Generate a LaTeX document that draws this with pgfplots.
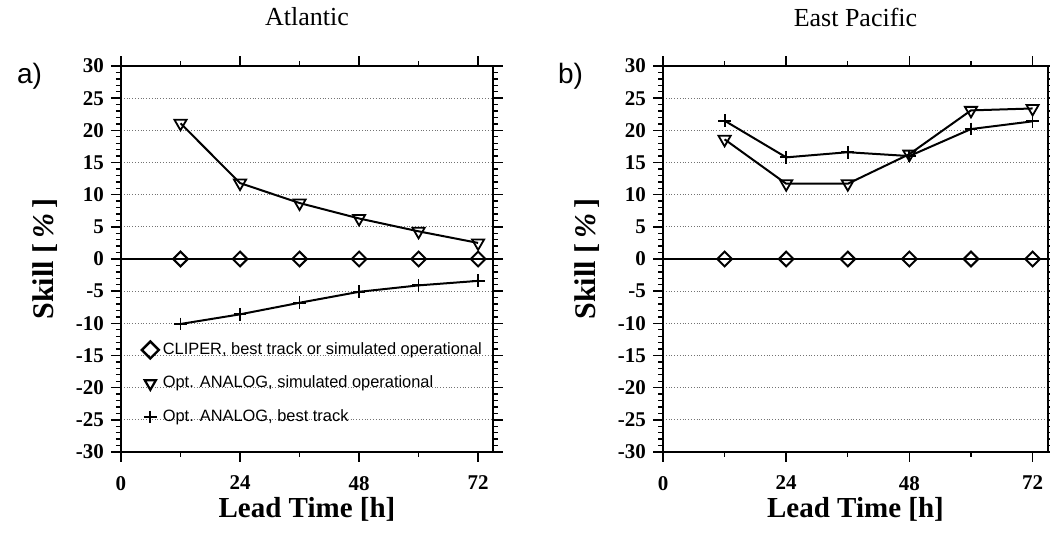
\documentclass[border=0pt]{standalone}
\usepackage{fontspec}
\setmainfont{Liberation Serif}
\newfontfamily\arial{Liberation Sans}
\usepackage{pgfplots}
\pgfplotsset{compat=1.18}

\pgfplotsset{
  skill/.style={
    scale only axis, height=193pt,
    xmin=0, xmax=75, ymin=-30, ymax=30,
    xtick={0,24,48,72}, xticklabels={0,24,48,72},
    minor xtick={12,36,60},
    ytick={-30,-25,...,30},
    yticklabels={-30,-25,-20,-15,-10,-5,0,5,10,15,20,25,30},
    minor y tick num=4,
    tick align=outside,
    major tick length=5pt, minor tick length=2.5pt,
    tick style={black, line width=0.7pt},
    axis line style={line width=0.8pt},
    ymajorgrids,
    major grid style={densely dotted, black!55, line width=0.4pt},
    tick label style={font=\bfseries\fontsize{10.5}{12}\selectfont},
    xticklabel style={yshift=-3.5pt},
    xlabel={Lead Time [h]}, ylabel={Skill [\,\textit{\%}\,]},
    every axis x label/.style={at={(rel axis cs:0.5,0)}, yshift=-28.5pt, anchor=center,
      font=\bfseries\fontsize{14.5}{16}\selectfont},
    every axis y label/.style={at={(rel axis cs:0,0.5)}, xshift=-38pt, rotate=90, anchor=center,
      font=\bfseries\fontsize{15}{16}\selectfont},
    every axis title/.style={font=\fontsize{13}{15}\selectfont, at={(rel axis cs:0.5,1)}, yshift=24.5pt, anchor=center},
    extra y ticks={0}, extra y tick labels={},
    extra y tick style={grid=major, major grid style={solid, black, line width=1pt}},
    clip=false,
    legend image code/.code={\draw[mark repeat=2,mark phase=2,#1] plot coordinates {(0cm,0cm)(0.2cm,0cm)(0.47cm,0cm)};},
  },
  dia/.style={black, line width=1pt, mark=square, mark size=2.6pt, mark options={rotate=45, solid, fill=white, line width=1pt}},
  tri/.style={black, line width=1pt, mark=triangle, mark size=3.5pt, mark options={rotate=180, solid, fill=white, line width=0.9pt}},
  pls/.style={black, line width=1pt, mark=+, mark size=3.2pt, mark options={solid, line width=0.9pt}},
}

\begin{document}
\begin{tikzpicture}
\path[use as bounding box] (-60.5pt,-41.5pt) rectangle (464.5pt,226pt);

\begin{axis}[skill, width=186pt, at={(0pt,0pt)}, anchor=south west,
    title={Atlantic},
    legend style={at={(rel axis cs:0.055,0.295)}, anchor=north west, draw=none, fill=none,
      font=\arial\fontsize{8.2}{9.5}\selectfont, row sep=5.3pt, inner sep=0pt},
    legend cell align=left]
\addplot[dia, forget plot] coordinates {(12,0)(24,0)(36,0)(48,0)(60,0)(72,0)};
\addplot[tri, forget plot] coordinates {(12,21.1)(24,11.8)(36,8.7)(48,6.3)(60,4.3)(72,2.5)};
\addplot[pls, forget plot] coordinates {(12,-10.1)(24,-8.6)(36,-6.8)(48,-5.1)(60,-4.1)(72,-3.4)};
\addlegendimage{only marks, mark=square, mark size=3pt, mark options={rotate=45, line width=1.2pt}}
\addlegendentry{CLIPER, best track or simulated operational}
\addlegendimage{only marks, mark=triangle, mark size=3.2pt, mark options={rotate=180, line width=1.1pt}}
\addlegendentry{Opt. ANALOG, simulated operational}
\addlegendimage{only marks, mark=+, mark size=3.2pt, mark options={line width=1.1pt}}
\addlegendentry{Opt. ANALOG, best track}
\node[font=\arial\fontsize{14}{16}\selectfont, anchor=west, xshift=-55.5pt, yshift=-5pt] at (rel axis cs:0,1) {a)};
\end{axis}

\begin{axis}[skill, width=192.5pt, at={(271pt,0pt)}, anchor=south west,
    title={East Pacific}]
\addplot[dia] coordinates {(12,0)(24,0)(36,0)(48,0)(60,0)(72,0)};
\addplot[tri] coordinates {(12,18.6)(24,11.7)(36,11.7)(48,16.3)(60,23.1)(72,23.4)};
\addplot[pls] coordinates {(12,21.5)(24,15.8)(36,16.6)(48,16.0)(60,20.2)(72,21.4)};
\node[font=\arial\fontsize{14}{16}\selectfont, anchor=west, xshift=-56pt, yshift=-5pt] at (rel axis cs:0,1) {b)};
\end{axis}
\end{tikzpicture}
\end{document}
